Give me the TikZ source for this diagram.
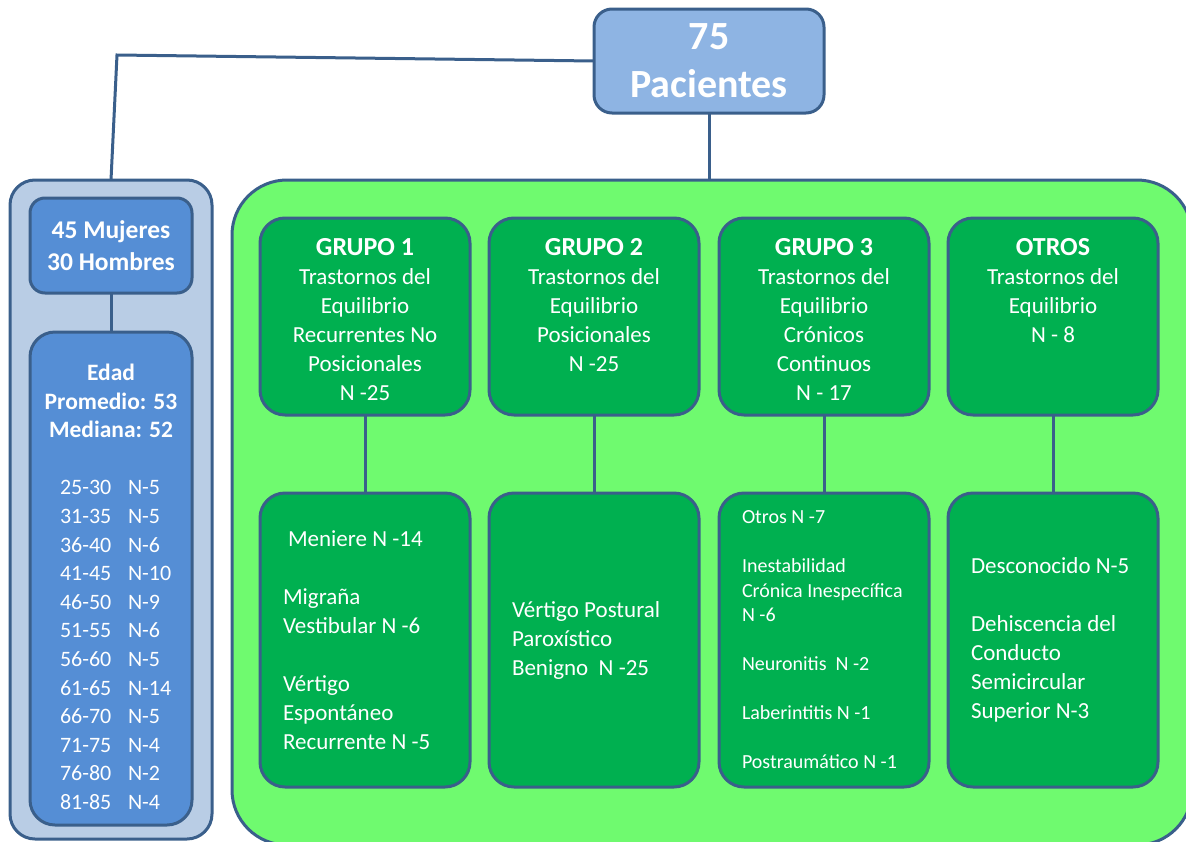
\documentclass[tikz,border=0pt]{standalone}
\usepackage{fontspec}
\setmainfont{Carlito}
\usetikzlibrary{positioning}
\definecolor{edge}{HTML}{3A5F8B}
\definecolor{paleblue}{HTML}{B9CDE5}
\definecolor{midblue}{HTML}{558ED5}
\definecolor{topblue}{HTML}{8EB4E3}
\definecolor{lightgreen}{HTML}{6FFA6F}
\definecolor{darkgreen}{HTML}{00B050}
\newcommand{\agerow}[2]{\makebox[102pt][l]{\makebox[68pt][l]{#1}#2}}
\newcommand{\grptitle}[1]{{\fontsize{26}{29}\selectfont\bfseries #1}}
\begin{document}
\begin{tikzpicture}[
  x=1pt, y=1pt,
  panel/.style={draw=edge, line width=3pt, inner sep=0pt, outer sep=0pt},
  grpbox/.style={panel, fill=darkgreen, rounded corners=25pt, minimum width=210pt},
  txt/.style={text=white, inner sep=0pt, outer sep=0pt},
  main/.style={txt, font=\fontsize{23}{29}\selectfont},
  small/.style={txt, font=\fontsize{20}{24.5}\selectfont},
  link/.style={draw=edge, line width=3pt}
]
\useasboundingbox (0,0) rectangle (1186,-841);
% panels
\node[panel, fill=paleblue, rounded corners=25pt, minimum width=202pt, minimum height=659pt] (agepanel) at (111,-509.5) {};
\node[panel, fill=lightgreen, rounded corners=55pt, minimum width=960pt, minimum height=665pt] (grppanel) at (712,-512.5) {};
% top
\node[panel, fill=topblue, rounded corners=18pt, minimum width=230pt, minimum height=104pt, txt, align=center,
  font=\fontsize{40}{48}\selectfont\bfseries] (total) at (709,-61) {75\\Pacientes};
% left column
\node[panel, fill=midblue, rounded corners=15pt, minimum width=162pt, minimum height=95pt, txt, align=center,
  font=\fontsize{25.5}{32}\selectfont\bfseries] (sexo) at (111,-245.5) {45 Mujeres\\30 Hombres};
\node[panel, fill=midblue, rounded corners=25pt, minimum width=162pt, minimum height=493pt] (edad) at (111,-578.5) {};
\node[main, align=center, below=32pt of edad.north, font=\fontsize{22}{28.6}\selectfont] (edadtxt)
  {{\fontsize{23.5}{29}\selectfont\bfseries Edad}\\{\fontsize{23.5}{29}\selectfont\bfseries Promedio: 53}\\
   {\fontsize{23.5}{29}\selectfont\bfseries Mediana: 52}\\[28.6pt]
   \agerow{25-30}{N-5}\\\agerow{31-35}{N-5}\\\agerow{36-40}{N-6}\\\agerow{41-45}{N-10}\\
   \agerow{46-50}{N-9}\\\agerow{51-55}{N-6}\\\agerow{56-60}{N-5}\\\agerow{61-65}{N-14}\\
   \agerow{66-70}{N-5}\\\agerow{71-75}{N-4}\\\agerow{76-80}{N-2}\\\agerow{81-85}{N-4}};
% groups
\node[grpbox, minimum height=197pt] (g1) at (365,-316.5) {};
\node[grpbox, minimum height=197pt] (g2) at (594,-316.5) {};
\node[grpbox, minimum height=197pt] (g3) at (824,-316.5) {};
\node[grpbox, minimum height=197pt] (g4) at (1053,-316.5) {};
\node[main, align=center, below=20pt of g1.north] (g1txt) {\grptitle{GRUPO 1}\\Trastornos del\\Equilibrio\\Recurrentes No\\Posicionales\\N -25};
\node[main, align=center, below=20pt of g2.north] (g2txt) {\grptitle{GRUPO 2}\\Trastornos del\\Equilibrio\\Posicionales\\N -25};
\node[main, align=center, below=20pt of g3.north] (g3txt) {\grptitle{GRUPO 3}\\Trastornos del\\Equilibrio\\Crónicos\\Continuos\\N - 17};
\node[main, align=center, below=20pt of g4.north] (g4txt) {\grptitle{OTROS}\\Trastornos del\\Equilibrio\\N - 8};
% diagnoses
\node[grpbox, minimum height=294pt] (s1) at (365,-640) {};
\node[grpbox, minimum height=294pt] (s2) at (594,-640) {};
\node[grpbox, minimum height=294pt] (s3) at (824,-640) {};
\node[grpbox, minimum height=294pt] (s4) at (1053,-640) {};
\node[main, align=left, right=23pt of s1.west] (s1txt) {\hspace{5pt}Meniere N -14\\[28.7pt]Migraña\\Vestibular N -6\\[28.7pt]Vértigo\\Espontáneo\\Recurrente N -5};
\node[main, align=left, right=23pt of s2.west] (s2txt) {Vértigo Postural\\Paroxístico\\Benigno\ \ N -25};
\node[small, align=left, right=23pt of s3.west] (s3txt) {Otros N -7\\[24.5pt]Inestabilidad\\Crónica Inespecífica\\N -6\\[24.5pt]Neuronitis\ \ N -2\\[24.5pt]Laberintitis N -1\\[24.5pt]Postraumático N -1};
\node[main, align=left, right=23pt of s4.west] (s4txt) {Desconocido N-5\\[28.7pt]Dehiscencia del\\Conducto\\Semicircular\\Superior N-3};
% connectors
\coordinate (bend) at (117,-55);
\draw[link] (total.west) -- (bend) -- (agepanel.north);
\draw[link] (total.south) -- (total.south |- grppanel.north);
\draw[link] (sexo) -- (edad);
\draw[link] (g1) -- (s1);
\draw[link] (g2) -- (s2);
\draw[link] (g3) -- (s3);
\draw[link] (g4) -- (s4);
\end{tikzpicture}
\end{document}
